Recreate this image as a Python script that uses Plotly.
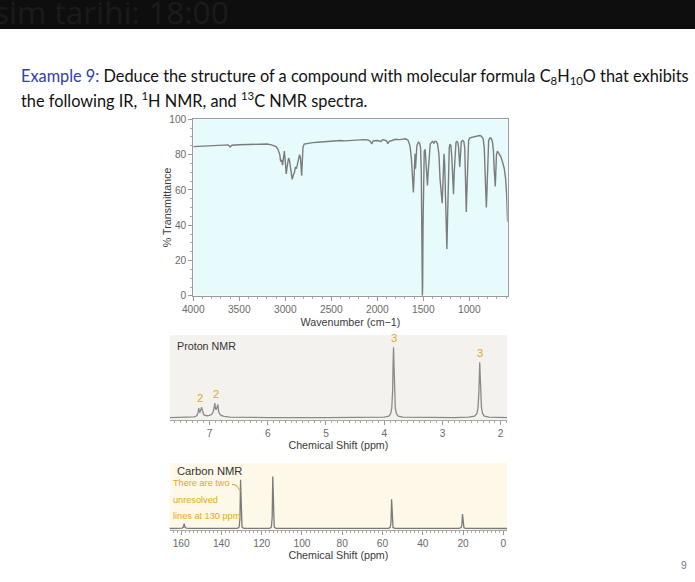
import plotly.graph_objects as go

W, H = 695, 582

# ---------------- data ----------------
ir_wavenumber = [4000, 3900, 3800, 3700, 3620, 3600, 3580, 3500, 3400, 3300, 3200, 3150, 3100, 3080,
                 3060, 3050, 3040, 3030, 3020, 3010, 3000, 2990, 2980, 2965, 2955, 2945, 2935, 2925,
                 2915, 2900, 2890, 2880, 2870, 2855, 2845, 2835, 2828, 2822, 2815, 2808, 2795, 2750,
                 2700, 2650, 2600, 2550, 2500, 2450, 2400, 2350, 2300, 2250, 2200, 2150, 2100, 2075,
                 2060, 2045, 2000, 1960, 1940, 1900, 1885, 1870, 1840, 1800, 1760, 1720, 1690, 1665,
                 1645, 1630, 1618, 1608, 1600, 1594, 1590, 1585, 1578, 1570, 1555, 1540, 1530, 1522,
                 1517, 1513, 1510, 1507, 1503, 1497, 1490, 1480, 1472, 1463, 1455, 1447, 1438, 1425,
                 1400, 1385, 1375, 1360, 1345, 1330, 1318, 1305, 1295, 1288, 1281, 1275, 1268, 1258,
                 1250, 1244, 1236, 1228, 1218, 1210, 1200, 1190, 1180, 1172, 1164, 1155, 1145, 1135,
                 1125, 1117, 1110, 1104, 1096, 1088, 1075, 1060, 1050, 1044, 1038, 1033, 1027, 1018,
                 1008, 995, 960, 920, 890, 870, 850, 838, 830, 822, 815, 808, 800, 790, 775, 760,
                 748, 738, 730, 724, 718, 712, 705, 695, 680, 660, 640, 620, 605, 595, 584]
ir_transmittance = [84.5, 84.8, 85.0, 85.3, 85.5, 84.3, 85.3, 85.6, 85.8, 86.0, 86.0, 85.5, 84.5, 83.0,
                    80.0, 76.0, 77.0, 74.0, 79.0, 82.0, 76.0, 69.0, 73.0, 78.0, 77.0, 72.0, 67.0, 66.0,
                    68.0, 70.0, 73.0, 72.0, 74.0, 79.0, 80.0, 78.0, 73.0, 68.0, 76.0, 84.0, 86.0, 86.5,
                    86.8, 87.0, 87.2, 87.5, 87.3, 87.6, 88.0, 87.8, 88.0, 88.4, 88.5, 88.5, 88.3, 87.5,
                    86.0, 87.8, 88.0, 87.5, 88.5, 87.8, 86.2, 87.5, 88.0, 88.7, 88.5, 89.0, 89.0, 88.0,
                    85.0, 78.0, 66.0, 58.5, 68.0, 80.0, 80.5, 72.0, 80.0, 85.0, 87.0, 86.5, 84.0, 70.0,
                    40.0, 6.0, 0.0, 6.0, 40.0, 72.0, 82.0, 83.0, 78.0, 68.0, 62.5, 70.0, 80.0, 86.0,
                    87.5, 86.5, 87.5, 87.5, 86.0, 80.0, 66.0, 55.0, 52.5, 62.0, 78.0, 80.5, 75.0, 50.0,
                    30.0, 26.5, 45.0, 72.0, 84.0, 86.0, 85.0, 78.0, 65.0, 57.5, 70.0, 84.0, 87.0, 87.5,
                    87.0, 84.0, 77.0, 73.0, 80.0, 87.0, 88.0, 87.5, 84.0, 74.0, 58.0, 47.5, 58.0, 80.0,
                    88.0, 89.5, 90.0, 90.5, 90.8, 90.5, 89.0, 84.0, 75.0, 60.0, 50.0, 60.0, 78.0, 88.0,
                    89.5, 89.0, 87.0, 82.0, 72.0, 64.0, 62.0, 70.0, 80.0, 82.0, 81.0, 79.0, 76.0, 72.0,
                    66.0, 58.0, 42.0]

h_ppm = [7.68, 7.50, 7.35, 7.26, 7.22, 7.20, 7.19, 7.184, 7.175, 7.165, 7.155, 7.145, 7.135, 7.126,
         7.115, 7.10, 7.05, 7.00, 6.96, 6.935, 6.92, 6.908, 6.898, 6.888, 6.878, 6.866, 6.856, 6.845,
         6.83, 6.80, 6.75, 6.65, 6.50, 6.00, 5.00, 4.30, 4.00, 3.92, 3.89, 3.87, 3.855, 3.848, 3.84,
         3.832, 3.825, 3.81, 3.79, 3.76, 3.68, 3.40, 2.80, 2.55, 2.45, 2.41, 2.39, 2.375, 2.368,
         2.36, 2.352, 2.345, 2.33, 2.31, 2.28, 2.20, 2.00, 1.89]
h_intensity = [0.4, 0.6, 0.9, 1.5, 3.0, 6.0, 11.0, 14.0, 9.0, 8.0, 10.0, 13.0, 15.0, 12.0,
               7.0, 4.5, 3.0, 3.5, 5.0, 9.0, 15.0, 21.0, 13.0, 12.0, 13.0, 18.0, 19.0, 10.0,
               6.0, 3.5, 2.0, 1.2, 0.8, 0.5, 0.4, 0.5, 1.0, 2.5, 6.0, 14.0, 40.0, 75.0, 100.0,
               75.0, 40.0, 14.0, 6.0, 2.5, 1.0, 0.5, 0.5, 1.0, 2.5, 6.0, 14.0, 35.0, 60.0,
               78.6, 60.0, 35.0, 14.0, 6.0, 2.5, 1.0, 0.5, 0.4]
h_integrals = ["2", "2", "3", "3"]
h_integral_pos = [7.155, 6.88, 3.84, 2.36]
h_integral_height = [15, 21, 100, 78.6]

c_ppm = [166, 161, 159.5, 158.9, 158.5, 158.1, 157.5, 156, 135, 132, 131.2, 130.8, 130.5, 130.2,
         129.8, 129, 120, 116, 115.2, 114.8, 114.5, 114.2, 113.8, 113, 90, 57, 56.2, 55.8, 55.5,
         55.2, 54.8, 54, 35, 22, 21.0, 20.6, 20.3, 20.0, 19.6, 19, 5, -2]
c_intensity = [0.2, 0.3, 1.0, 3.0, 9.7, 3.0, 1.0, 0.3, 0.3, 0.5, 3.0, 20.0, 93.5, 20.0,
               3.0, 0.5, 0.3, 0.5, 3.0, 22.0, 100.0, 22.0, 3.0, 0.5, 0.3, 0.5, 2.5, 12.0, 56.0,
               12.0, 2.5, 0.5, 0.3, 0.4, 2.0, 7.0, 27.7, 7.0, 2.0, 0.4, 0.3, 0.2]
c_note_lines = ["There are two", "unresolved", "lines at 130 ppm"]

# ---------------- layout helpers (target-pixel -> figure-pixel) ----------------
SX, OX = 0.98, 13.0
SY, OY = 0.9725, 7.7
FS = 1.02


def fx(xr):
    return (xr - OX) / SX


def fy(yr):
    return (yr - OY) / SY


def px(xr):
    return fx(xr) / W


def py(yr):
    return 1 - fy(yr) / H


def xd(a, b):
    return [max(0.0, px(a)), min(1.0, px(b))]


def yd(top, bottom):
    return [max(0.0, py(bottom)), min(1.0, py(top))]


SANS = "Liberation Sans, Arial, sans-serif"
TICKFONT = dict(family=SANS, size=10 * FS, color="#6a6a6a")
TITLEFONT = dict(family=SANS, size=10.5 * FS, color="#3a3a3a")
GOLD = "#e3a81c"

fig = go.Figure()
fig.add_trace(go.Scatter(x=ir_wavenumber, y=ir_transmittance, mode="lines",
                         line=dict(color="#7c7c7c", width=1.4), xaxis="x", yaxis="y",
                         hoverinfo="skip", showlegend=False))
fig.add_trace(go.Scatter(x=h_ppm, y=h_intensity, mode="lines",
                         line=dict(color="#8a8a8a", width=1.3), xaxis="x2", yaxis="y2",
                         hoverinfo="skip", showlegend=False))
fig.add_trace(go.Scatter(x=c_ppm, y=c_intensity, mode="lines",
                         line=dict(color="#7a7a7a", width=1.3), xaxis="x3", yaxis="y3",
                         hoverinfo="skip", showlegend=False))

fig.update_layout(
    width=W, height=H, autosize=False,
    margin=dict(l=0, r=0, t=0, b=0),
    paper_bgcolor="white",
    plot_bgcolor="rgba(0,0,0,0)",
    showlegend=False,
    xaxis=dict(domain=xd(194.5, 507.5), anchor="y", range=[4000, 584],
               tickvals=[4000, 3500, 3000, 2500, 2000, 1500, 1000],
               ticks="outside", ticklen=4, tickcolor="#999", tickfont=TICKFONT,
               minor=dict(dtick=100, tick0=0, ticks="outside", ticklen=2.5, tickcolor="#aaa"),
               showline=True, linecolor="#9a9a9a", linewidth=1, mirror=True,
               showgrid=False, zeroline=False,
               title=dict(text="Wavenumber (cm\u22121)", font=TITLEFONT, standoff=4)),
    yaxis=dict(domain=yd(121, 296), anchor="x", range=[0, 100],
               tickvals=[0, 20, 40, 60, 80, 100],
               ticks="outside", ticklen=4, tickcolor="#999", tickfont=TICKFONT,
               minor=dict(dtick=5, tick0=0, ticks="outside", ticklen=2.5, tickcolor="#aaa"),
               showline=True, linecolor="#9a9a9a", linewidth=1, mirror=True,
               showgrid=False, zeroline=False),
    xaxis2=dict(domain=xd(171, 507), anchor="y2", range=[7.684, 1.89],
                dtick=1, tick0=0, ticks="outside", ticklen=4, tickcolor="#999",
                tickfont=TICKFONT,
                minor=dict(dtick=0.1, tick0=0, ticks="outside", ticklen=2.5, tickcolor="#aaa"),
                showline=True, linecolor="#a8a8a8", linewidth=1,
                showgrid=False, zeroline=False,
                title=dict(text="Chemical Shift (ppm)", font=TITLEFONT, standoff=2)),
    yaxis2=dict(domain=yd(335, 419), anchor="x2", range=[-2.9, 117], visible=False),
    xaxis3=dict(domain=xd(171, 507), anchor="y3", range=[165.7, -1.85],
                dtick=20, tick0=0, ticks="outside", ticklen=4, tickcolor="#999",
                tickfont=TICKFONT,
                minor=dict(dtick=2, tick0=0, ticks="outside", ticklen=2.5, tickcolor="#aaa"),
                showline=True, linecolor="#a8a8a8", linewidth=1,
                showgrid=False, zeroline=False,
                title=dict(text="Chemical Shift (ppm)", font=TITLEFONT, standoff=2)),
    yaxis3=dict(domain=yd(461.7, 528), anchor="x3", range=[-2.5, 125.7], visible=False),
)

shapes = [
    dict(type="rect", xref="paper", yref="paper", x0=0, x1=1, y0=py(31), y1=1,
         fillcolor="#0e0e0e", line=dict(width=0), layer="below"),
    dict(type="rect", xref="x domain", yref="y domain", x0=0, x1=1, y0=0, y1=1,
         fillcolor="#e7fbfd", line=dict(width=0), layer="below"),
    dict(type="rect", xref="x2 domain", yref="y2 domain", x0=0, x1=1, y0=0, y1=1,
         fillcolor="#f4f2ee", line=dict(width=0), layer="below"),
    dict(type="rect", xref="x3 domain", yref="y3 domain", x0=0, x1=1, y0=0, y1=1,
         fillcolor="#fdf8e8", line=dict(width=0), layer="below"),
    dict(type="line", xref="paper", yref="paper", x0=px(233), y0=py(483), x1=px(237), y1=py(483.5),
         line=dict(color="#c8a030", width=1)),
    dict(type="line", xref="paper", yref="paper", x0=px(237), y0=py(483.5), x1=px(242), y1=py(490),
         line=dict(color="#c8a030", width=1)),
]
fig.update_layout(shapes=shapes)

TITLE_FONT = dict(family="Lato, Open Sans, sans-serif", size=16 * FS, color="#111111")
LAB = dict(family=SANS, size=10.5 * FS, color="#333")

band_top = -10.0            # figure px (above the paper edge)
band_bottom = fy(31)        # figure px
band_left = -17.0
annotations = [
    dict(text="sim tarihi: 18:00", xref="paper", yref="paper",
         x=band_left / W, y=1 - band_top / H, xanchor="left", yanchor="top",
         width=W - band_left + 20, height=band_bottom - band_top,
         align="left", valign="middle", bgcolor="#0e0e0e", borderpad=0, borderwidth=0,
         showarrow=False,
         font=dict(family="Open Sans, sans-serif", size=31 * FS, color="#1b1b1b")),
    dict(text="<span style='color:#2f3fa8'>Example 9:</span> Deduce the structure of a compound "
              "with molecular formula C<sub>8</sub>H<sub>10</sub>O that exhibits",
         xref="paper", yref="paper", x=px(21), y=py(79), xanchor="left", yanchor="middle",
         showarrow=False, font=TITLE_FONT),
    dict(text="the following IR, <sup>1</sup>H NMR, and <sup>13</sup>C NMR spectra.",
         xref="paper", yref="paper", x=px(21), y=py(101), xanchor="left", yanchor="middle",
         showarrow=False, font=TITLE_FONT),
    dict(text="% Transmittance", xref="paper", yref="paper", x=px(168), y=py(208.5),
         xanchor="center", yanchor="middle", showarrow=False, textangle=-90, font=TITLEFONT),
    dict(text="Proton NMR", xref="paper", yref="paper", x=px(176), y=py(346),
         xanchor="left", yanchor="middle", showarrow=False, font=LAB),
    dict(text="Carbon NMR", xref="paper", yref="paper", x=px(176), y=py(470),
         xanchor="left", yanchor="middle", showarrow=False,
         font=dict(family=SANS, size=11 * FS, color="#333")),
    dict(text="9", xref="paper", yref="paper", x=px(683), y=py(563), xanchor="center",
         yanchor="middle", showarrow=False, font=dict(family=SANS, size=10 * FS, color="#777")),
]
for i, line in enumerate(c_note_lines):
    annotations.append(dict(text=line, xref="paper", yref="paper", x=px(172), y=py(482 + 16 * i),
                            xanchor="left", yanchor="middle", showarrow=False,
                            font=dict(family=SANS, size=9 * FS, color=GOLD)))
for lab, xp, hgt in zip(h_integrals, h_integral_pos, h_integral_height):
    annotations.append(dict(text=lab, x=xp, y=hgt, xref="x2", yref="y2", xanchor="center",
                            yanchor="bottom", showarrow=False, yshift=1,
                            font=dict(family=SANS, size=11 * FS, color=GOLD)))
fig.update_layout(annotations=annotations)

fig.write_html("out.html")
